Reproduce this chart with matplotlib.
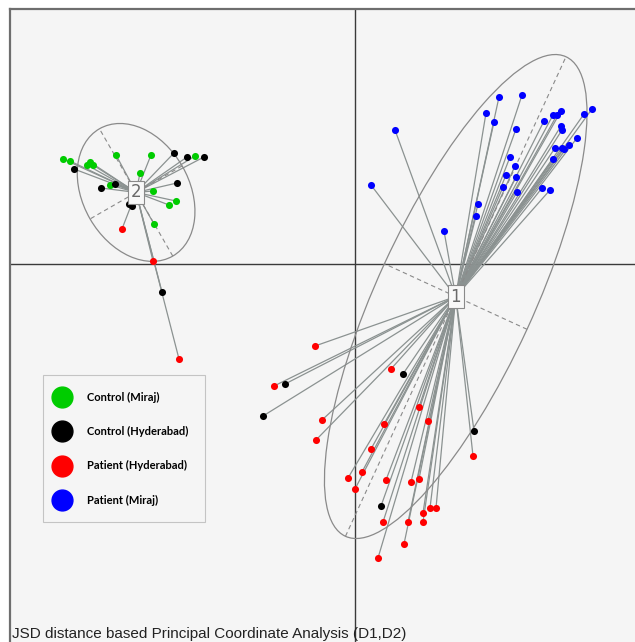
import numpy as np
import matplotlib
matplotlib.use("Agg")
import matplotlib.pyplot as plt
from matplotlib.patches import Ellipse
from matplotlib.lines import Line2D

# PCoA coordinates (D1, D2) for each sample, grouped by cluster and by cohort
c2_control_miraj = [(-2.92, 1.05), (-2.85, 1.03), (-2.68, 0.99), (-2.65, 1.02), (-2.62, 0.99),
                    (-2.39, 1.09), (-2.04, 1.09), (-1.60, 1.08), (-2.15, 0.91), (-2.45, 0.79),
                    (-2.20, 0.75), (-2.02, 0.73), (-1.79, 0.63), (-1.86, 0.59), (-2.01, 0.40)]
c2_control_hyd = [(-2.81, 0.95), (-1.81, 1.11), (-1.68, 1.07), (-1.51, 1.07), (-2.54, 0.76),
                  (-2.40, 0.80), (-1.78, 0.81), (-2.26, 0.60), (-2.23, 0.58), (-1.93, -0.28)]
c2_patient_hyd = [(-2.33, 0.35), (-2.02, 0.03), (-1.76, -0.95)]
c2_patient_miraj = []

c1_control_miraj = []
c1_control_hyd = [(0.48, -1.10), (-0.70, -1.20), (-0.92, -1.52), (1.19, -1.67), (0.26, -2.42)]
c1_patient_hyd = [(-0.40, -0.82), (0.36, -1.05), (-0.81, -1.22), (0.64, -1.43), (-0.33, -1.56),
                  (0.29, -1.60), (0.73, -1.57), (-0.39, -1.76), (1.18, -1.92), (0.16, -1.85),
                  (0.07, -2.08), (-0.07, -2.14), (0.00, -2.25), (0.31, -2.16), (0.56, -2.18),
                  (0.64, -2.15), (0.68, -2.49), (0.75, -2.44), (0.81, -2.44), (0.28, -2.58),
                  (0.53, -2.58), (0.68, -2.58), (0.49, -2.80), (0.23, -2.94)]
c1_patient_miraj = [(1.44, 1.67), (1.67, 1.69), (1.31, 1.51), (1.39, 1.42), (1.61, 1.35),
                    (1.89, 1.43), (1.98, 1.49), (2.02, 1.49), (2.06, 1.53), (2.06, 1.38),
                    (2.07, 1.34), (2.29, 1.50), (2.37, 1.55), (2.22, 1.26), (2.14, 1.19),
                    (2.09, 1.15), (2.07, 1.16), (2.00, 1.16), (1.98, 1.05), (1.55, 1.07),
                    (1.60, 0.98), (1.51, 0.89), (1.61, 0.87), (1.48, 0.77), (1.62, 0.72),
                    (1.87, 0.76), (1.95, 0.74), (0.16, 0.79), (0.40, 1.34), (0.89, 0.33),
                    (1.23, 0.60), (1.21, 0.48)]

cohorts = ["Control (Miraj)", "Control (Hyderabad)", "Patient (Hyderabad)", "Patient (Miraj)"]
cohort_colors = ["#00cc00", "#000000", "#ff0000", "#0000ff"]
clusters = {
    "1": [c1_control_miraj, c1_control_hyd, c1_patient_hyd, c1_patient_miraj],
    "2": [c2_control_miraj, c2_control_hyd, c2_patient_hyd, c2_patient_miraj],
}
title = "JSD distance based Principal Coordinate Analysis (D1,D2)"

seg_col = "#8b9291"
fig = plt.figure(figsize=(6.35, 6.42), dpi=100)
ax = fig.add_axes([10 / 635, 0, 625 / 635, 633 / 642])
ax.set_facecolor("#f5f5f5")
ax.set_xlim(-3.45, 2.80)
ax.set_ylim(-3.78, 2.55)
ax.set_xticks([])
ax.set_yticks([])
for side in ["right", "bottom"]:
    ax.spines[side].set_visible(False)
for side in ["left", "top"]:
    ax.spines[side].set_color("#6e6e6e")
    ax.spines[side].set_linewidth(1.6)
ax.axhline(0, color="#3a3a3a", lw=1.0, zorder=1)
ax.axvline(0, color="#3a3a3a", lw=1.0, zorder=1)

for name, groups in clusters.items():
    pts = np.array([p for g in groups for p in g])
    cx, cy = pts.mean(axis=0)
    # star segments
    for x, y in pts:
        ax.plot([cx, x], [cy, y], color=seg_col, lw=0.9, zorder=2)
    # covariance ellipse (cellipse = 1.5)
    cov = np.cov(pts.T, bias=True)
    vals, vecs = np.linalg.eigh(cov)
    a, b = 1.5 * np.sqrt(vals[1]), 1.5 * np.sqrt(vals[0])
    v1, v2 = vecs[:, 1], vecs[:, 0]
    ang = np.degrees(np.arctan2(v1[1], v1[0]))
    ax.add_patch(Ellipse((cx, cy), 2 * a, 2 * b, angle=ang, fill=False,
                         ec="#8a8a8a", lw=0.9, zorder=2))
    for v, r in [(v1, a), (v2, b)]:
        ax.plot([cx - r * v[0], cx + r * v[0]], [cy - r * v[1], cy + r * v[1]],
                color="#8a8a8a", lw=0.8, ls=(0, (4, 3)), zorder=2)
    for g, col in zip(groups, cohort_colors):
        if g:
            arr = np.array(g)
            ax.scatter(arr[:, 0], arr[:, 1], s=26, color=col, lw=0, zorder=4)
    ax.text(cx, cy, name, ha="center", va="center", fontsize=12, color="#6a6a6a",
            zorder=5, bbox=dict(boxstyle="square,pad=0.15", fc="#f8f8f8", ec="#8a8a8a", lw=0.8))

handles = [Line2D([], [], marker="o", ls="none", markersize=15, color=c, mec=c)
           for c in cohort_colors]
leg = ax.legend(handles, cohorts, loc="upper left",
                bbox_to_anchor=(43 / 635, 1 - 375 / 642), bbox_transform=fig.transFigure,
                borderaxespad=0, frameon=True, fancybox=False, edgecolor="#c4c4c4",
                facecolor="#f5f5f5", framealpha=1, borderpad=1.5, labelspacing=2.1,
                handlelength=0.45, handletextpad=2.0,
                prop={"family": "Lato", "weight": "bold", "size": 8})
leg.get_frame().set_linewidth(0.8)

fig.text(12 / 635, 1 - 638 / 642, title, fontsize=11, family="Liberation Sans",
         ha="left", va="baseline", color="#222222")

fig.savefig("out.png", dpi=100)
